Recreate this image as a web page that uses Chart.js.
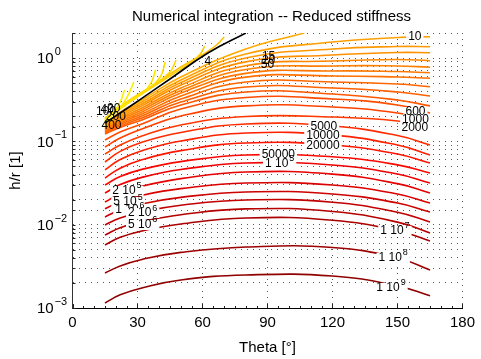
<!DOCTYPE html>
<html><head><meta charset="utf-8">
<script src="https://cdn.jsdelivr.net/npm/chart.js@4.4.1/dist/chart.umd.min.js"></script>
<style>html,body{margin:0;padding:0;background:#fff;}</style>
</head><body>
<canvas id="c" width="481" height="359"></canvas>
<script>
// ---------- DATA (Theta in degrees, h/r values) ----------
const thetaGrid = [15, 22, 32, 50, 80, 120, 150, 165];

const thetaTopLine = [15, 22, 32, 50, 80, 107];
const hrTopLine    = [0.1617, 0.225, 0.314, 0.593, 1.284, 2.0];

const hr_10  = [0.1574, 0.213, 0.297, 0.546, 1.12, 1.559, 1.765, 1.805];
const hr_o2  = [0.1531, 0.2046, 0.281, 0.509, 1.00, 1.284, 1.376, 1.369];
const hr_o3  = [0.1489, 0.1963, 0.2666, 0.475, 0.90, 1.089, 1.166, 1.16];
const hr_o4  = [0.1448, 0.1884, 0.252, 0.437, 0.81, 0.922, 0.962, 0.93];
const hr_o5  = [0.1409, 0.1807, 0.238, 0.408, 0.73, 0.804, 0.804, 0.776];
const hr_o6  = [0.1371, 0.1733, 0.225, 0.381, 0.655, 0.70, 0.69, 0.667];
const hr_o7  = [0.1334, 0.1662, 0.213, 0.351, 0.59, 0.61, 0.593, 0.572];
const hr_o8  = [0.1297, 0.1596, 0.2019, 0.323, 0.5165, 0.5165, 0.489, 0.453];
const hr_o9  = [0.1261, 0.1531, 0.1909, 0.297, 0.449, 0.437, 0.392, 0.351];
const hr_o10 = [0.1227, 0.1469, 0.1807, 0.274, 0.392, 0.3705, 0.314, 0.2666];
const hr_600  = [0.104, 0.1297, 0.1617, 0.245, 0.337, 0.323, 0.274, 0.219];
const hr_1000 = [0.0857, 0.1098, 0.1409, 0.2019, 0.2666, 0.2592, 0.219, 0.1807];
const hr_2000 = [0.0706, 0.0906, 0.1162, 0.1574, 0.199, 0.1963, 0.1758, 0.1489];
const hr_5000 = [0.0566, 0.0759, 0.0979, 0.128, 0.162, 0.153, 0.1175, 0.0906];
const hr_1e4  = [0.0454, 0.0605, 0.0772, 0.101, 0.126, 0.119, 0.0904, 0.0687];
const hr_2e4  = [0.0363, 0.0477, 0.0602, 0.0774, 0.0957, 0.0906, 0.0706, 0.055];
const hr_5e4  = [0.030, 0.0378, 0.0461, 0.0572, 0.0687, 0.0653, 0.0523, 0.0418];
const hr_1e5  = [0.024, 0.0303, 0.037, 0.0459, 0.055, 0.0521, 0.0406, 0.0316];
const hr_2e5  = [0.0187, 0.0236, 0.0289, 0.0357, 0.0429, 0.0405, 0.0311, 0.024];
const hr_5e5  = [0.0155, 0.0189, 0.0225, 0.0271, 0.0316, 0.030, 0.0234, 0.0182];
const hr_1e6  = [0.0124, 0.015, 0.0177, 0.0213, 0.0247, 0.0234, 0.0182, 0.0142];
const hr_2e6  = [0.00993, 0.01205, 0.0142, 0.0171, 0.0198, 0.0186, 0.0141, 0.01078];
const hr_5e6  = [0.00753, 0.00921, 0.01093, 0.01317, 0.01548, 0.01443, 0.01073, 0.00796];
const hr_1e7  = [0.00571, 0.00705, 0.00842, 0.0102, 0.01205, 0.01131, 0.00849, 0.00638];
const hr_1e8  = [0.00263, 0.0032, 0.00383, 0.00465, 0.0054, 0.00533, 0.00399, 0.00286];
const hr_1e9  = [0.00115, 0.00144, 0.00174, 0.00217, 0.00249, 0.00242, 0.00184, 0.0014];

const thetaBlack = [15, 22, 32, 45, 62.5, 80];
const hrBlack    = [0.1662, 0.219, 0.328, 0.561, 1.15, 2.0];

const thetaY1 = [15, 19, 22, 24];           const hrY1 = [0.1758, 0.225, 0.297, 0.414];
const thetaY2 = [15, 21, 25, 28.3];         const hrY2 = [0.1758, 0.238, 0.332, 0.5165];
const thetaY3 = [15, 25, 33, 36.5, 38.3];   const hrY3 = [0.1807, 0.281, 0.3916, 0.5165, 0.719];
const thetaY4 = [15, 25, 35, 40.5, 42.8];   const hrY4 = [0.1807, 0.289, 0.425, 0.593, 0.897];
const thetaY5 = [15, 25, 38, 45, 47.8];     const hrY5 = [0.1857, 0.297, 0.489, 0.68, 0.948];
const thetaY6 = [15, 30, 45, 55, 59, 61];   const hrY6 = [0.1857, 0.3415, 0.61, 0.897, 1.119, 1.396];
const thetaY7 = [15, 30, 50, 62, 67, 70];   const hrY7 = [0.1909, 0.351, 0.781, 1.1825, 1.475, 1.79];

const xTicks = [0, 30, 60, 90, 120, 150, 180];
const yTickExps = [0, -1, -2, -3];

const labelText  = ['10','4','15','20','50','600','1000','2000','5000','10000','20000','50000','1 10','2 10','5 10','1 10','2 10','5 10','1 10','1 10','1 10','400','200','100','40','20'];
const labelExp   = ['','','','','','','','','','','','','5','5','5','6','6','6','7','8','9','','','','',''];
const labelTheta = [158,62.5,90.5,90.5,90,158.3,158.3,158,116,115.6,115.6,95,95.6,25.1,25.6,26.5,32.4,32.4,148.8,148,147,18,20,15.5,16,19];
const labelHr    = [1.79,0.897,1.03,0.922,0.826,0.225,0.1807,0.1448,0.1489,0.1162,0.0882,0.0687,0.0535,0.0254,0.0187,0.015,0.0138,0.00993,0.00842,0.00399,0.00174,0.1531,0.1963,0.225,0.24,0.25];
const labelBox   = [1,0,0,0,0,1,1,1,1,1,1,1,1,1,1,1,1,1,1,1,1,0,0,0,0,0];

// ---------- BUILD ----------
const FONT = '"Liberation Sans", Arial, Helvetica, sans-serif';
const datasets = [];
function addLine(th, vals, color, w) {
  datasets.push({
    data: th.map((t, i) => ({x: t, y: vals[i]})),
    borderColor: color, borderWidth: w || 1.6, pointRadius: 0,
    showLine: true, fill: false, tension: 0.45
  });
}
addLine(thetaBlack, hrBlack, '#000000', 1.6);
addLine(thetaY1, hrY1, '#FFF200'); addLine(thetaY2, hrY2, '#FFEC00');
addLine(thetaY3, hrY3, '#FFE400'); addLine(thetaY4, hrY4, '#FFDC00');
addLine(thetaY5, hrY5, '#FFD400'); addLine(thetaY6, hrY6, '#FFCC00');
addLine(thetaY7, hrY7, '#FFC200');
addLine(thetaTopLine, hrTopLine, '#FFAA00');
const mainSeries = [hr_10,hr_o2,hr_o3,hr_o4,hr_o5,hr_o6,hr_o7,hr_o8,hr_o9,hr_o10,hr_600,hr_1000,hr_2000,hr_5000,hr_1e4,hr_2e4,hr_5e4,hr_1e5,hr_2e5,hr_5e5,hr_1e6,hr_2e6,hr_5e6,hr_1e7,hr_1e8,hr_1e9];
const mainColors = ['#FFA000','#FF9800','#FF9000','#FF8800','#FF8000','#FF7800','#FF7000','#FF6800','#FF6000','#FF5800','#FF4C00','#FF4200','#FF3800','#FF2C00','#FF2000','#FF1400','#FA0800','#F00000','#E60000','#DA0000','#CE0000','#C20000','#B60000','#AA0000','#9C0000','#900000'];
mainSeries.forEach((s, i) => addLine(thetaGrid, s, mainColors[i]));

const decor = {
  id: 'decor',
  afterDatasetsDraw(chart) {
    const {ctx, scales: {x, y}} = chart;
    ctx.save();
    ctx.textBaseline = 'middle'; ctx.textAlign = 'left';
    for (let i = 0; i < labelText.length; i++) {
      const px = x.getPixelForValue(labelTheta[i]);
      const py = y.getPixelForValue(labelHr[i]);
      ctx.font = '12px ' + FONT;
      const w1 = ctx.measureText(labelText[i]).width;
      ctx.font = '9px ' + FONT;
      const w2 = labelExp[i] ? ctx.measureText(labelExp[i]).width + 1 : 0;
      const w = w1 + w2, x0 = px - w / 2;
      if (labelBox[i]) { ctx.fillStyle = '#fff'; ctx.fillRect(x0 - 2, py - 5, w + 4, 10); }
      ctx.fillStyle = '#000';
      ctx.font = '12px ' + FONT; ctx.fillText(labelText[i], x0, py);
      if (labelExp[i]) { ctx.font = '9px ' + FONT; ctx.fillText(labelExp[i], x0 + w1 + 1, py - 5); }
    }
    ctx.restore();
  },
  afterDraw(chart) {
    const {ctx, scales: {x, y}, chartArea: ca} = chart;
    ctx.save();
    ctx.fillStyle = '#000'; ctx.textBaseline = 'middle';
    ctx.font = '15px ' + FONT; ctx.textAlign = 'center';
    ctx.fillText('Numerical integration -- Reduced stiffness', (ca.left + ca.right) / 2 + 4, 17);
    ctx.textAlign = 'left';
    yTickExps.forEach(e => {
      const py = y.getPixelForValue(Math.pow(10, e));
      ctx.font = '15px ' + FONT; ctx.fillText('10', 37, py + 1);
      const w = ctx.measureText('10').width;
      ctx.font = '11px ' + FONT; ctx.fillText(e === 0 ? '0' : '\u2212' + (-e), 37 + w + 1, py - 6);
    });
    ctx.strokeStyle = '#222'; ctx.lineWidth = 1;
    y.ticks.forEach(t => {
      const py = Math.round(y.getPixelForValue(t.value)) + 0.5;
      ctx.beginPath(); ctx.moveTo(ca.left, py); ctx.lineTo(ca.left + 3, py); ctx.stroke();
    });
    for (let v = 0; v <= 180; v += 5) {
      const px = Math.round(x.getPixelForValue(v)) + 0.5;
      const len = v % 30 === 0 ? 4 : 2;
      ctx.beginPath(); ctx.moveTo(px, ca.bottom); ctx.lineTo(px, ca.bottom - len); ctx.stroke();
    }
    ctx.restore();
  }
};

new Chart(document.getElementById('c'), {
  type: 'scatter',
  data: {datasets},
  options: {
    responsive: false, animation: false, devicePixelRatio: 1,
    layout: {padding: {top: 33, right: 12, left: 0, bottom: 0}},
    plugins: {legend: {display: false}, tooltip: {enabled: false}, title: {display: false}},
    scales: {
      x: {
        type: 'linear', min: 0, max: 180,
        afterBuildTicks: s => { s.ticks = xTicks.map(v => ({value: v})); },
        ticks: {color: '#000', font: {family: FONT, size: 15}, padding: 6, maxRotation: 0, autoSkip: false},
        grid: {color: 'rgba(0,0,0,0.65)', lineWidth: 1, drawTicks: false},
        border: {display: true, color: '#000', width: 1, dash: [1, 5]},
        title: {display: true, text: 'Theta [°]', color: '#000', font: {family: FONT, size: 15}, padding: {top: 0, bottom: 2}},
        afterFit: s => { s.height = 51; }
      },
      y: {
        type: 'logarithmic', min: 0.001, max: 2,
        ticks: {autoSkip: false, callback: () => '', padding: 0},
        grid: {color: 'rgba(0,0,0,0.65)', lineWidth: 1, drawTicks: false},
        border: {display: true, color: '#333', width: 1, dash: [1, 5]},
        title: {display: true, text: 'h/r [1]', color: '#000', font: {family: FONT, size: 15}, padding: {top: 7, bottom: 0}},
        afterFit: s => { s.width = 72.5; }
      }
    }
  },
  plugins: [decor]
});
</script>
</body></html>
